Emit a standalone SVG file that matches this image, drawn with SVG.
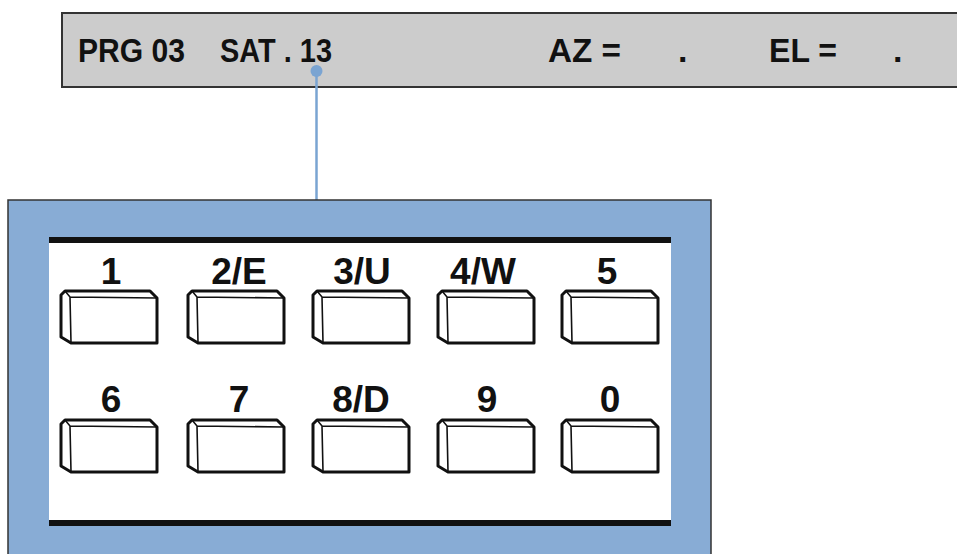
<svg xmlns="http://www.w3.org/2000/svg" width="957" height="554" viewBox="0 0 957 554">
<style>
.t{font-family:"Liberation Sans",Arial,sans-serif;font-weight:bold;fill:#111;}
.top{font-size:34px;}
.lab{font-size:37px;text-anchor:middle;}
.key{fill:#fff;stroke:#111;stroke-width:3;stroke-linejoin:round;}
.kin{fill:none;stroke:#111;stroke-width:1.6;}
</style>
<defs>
<g id="keyShape">
<path class="key" d="M1,5 L5,1 L90,1 L97,8 L97,53 L11,53 L1,47 Z"/>
<path class="kin" d="M5,1 L10,7 L97,8 M10,7 L11,53"/>
</g>
</defs>
<rect width="957" height="554" fill="#fff"/>
<g id="display">
<rect x="62" y="13" width="900" height="74" fill="#cccccc" stroke="#333" stroke-width="2"/>
<text class="t top" x="78" y="62" textLength="107" lengthAdjust="spacingAndGlyphs">PRG 03</text>
<text class="t top" x="220" y="62" textLength="112" lengthAdjust="spacingAndGlyphs">SAT . 13</text>
<text class="t top" x="548" y="62" textLength="73" lengthAdjust="spacingAndGlyphs">AZ =</text>
<text class="t top" x="678" y="62">.</text>
<text class="t top" x="769" y="62" textLength="68" lengthAdjust="spacingAndGlyphs">EL =</text>
<text class="t top" x="893" y="62">.</text>
</g>
<g id="connectors">
<line x1="316.5" y1="71" x2="316.5" y2="200" stroke="#7aa4d2" stroke-width="2.5"/>
<circle cx="316.5" cy="71" r="6" fill="#7aa4d2"/>
</g>
<g id="keypad">
<rect x="8" y="200" width="703" height="360" fill="#88acd5" stroke="#333" stroke-width="1.5"/>
<rect x="49" y="237" width="622" height="289" fill="#fff"/>
<rect x="49" y="237" width="622" height="6" fill="#111"/>
<rect x="49" y="520" width="622" height="6" fill="#111"/>
</g>
<g id="key-1"><use href="#keyShape" x="60" y="290"/><text class="t lab" x="111" y="284">1</text></g>
<g id="key-2"><use href="#keyShape" x="187" y="290"/><text class="t lab" x="239" y="284">2/E</text></g>
<g id="key-3"><use href="#keyShape" x="312" y="290"/><text class="t lab" x="362" y="284">3/U</text></g>
<g id="key-4"><use href="#keyShape" x="437" y="290"/><text class="t lab" x="483" y="284">4/W</text></g>
<g id="key-5"><use href="#keyShape" x="561" y="290"/><text class="t lab" x="607" y="284">5</text></g>
<g id="key-6"><use href="#keyShape" x="60" y="419"/><text class="t lab" x="111" y="412">6</text></g>
<g id="key-7"><use href="#keyShape" x="187" y="419"/><text class="t lab" x="239" y="412">7</text></g>
<g id="key-8"><use href="#keyShape" x="312" y="419"/><text class="t lab" x="361" y="412">8/D</text></g>
<g id="key-9"><use href="#keyShape" x="437" y="419"/><text class="t lab" x="487" y="412">9</text></g>
<g id="key-0"><use href="#keyShape" x="561" y="419"/><text class="t lab" x="610" y="412">0</text></g>
</svg>
